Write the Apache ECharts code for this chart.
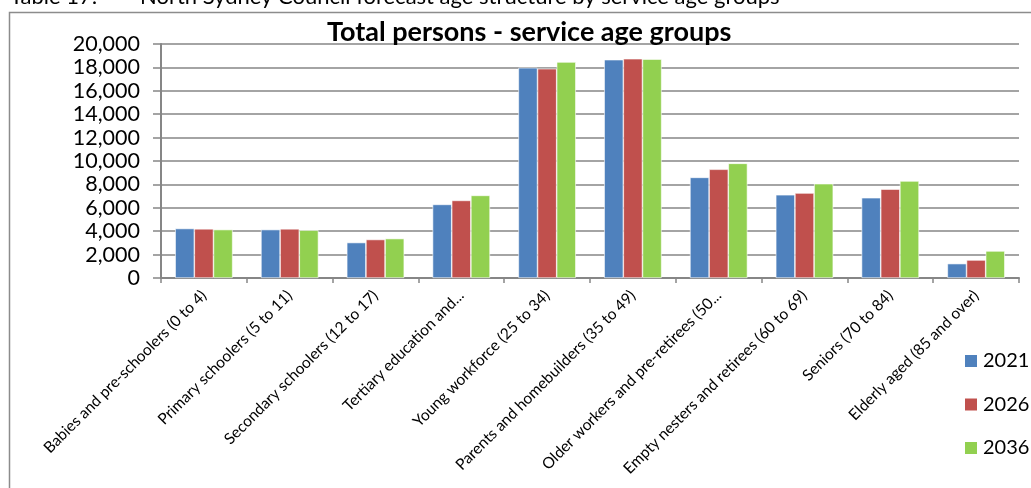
<!DOCTYPE html>
<html><head><meta charset="utf-8">
<script src="https://cdn.jsdelivr.net/npm/echarts@6/dist/echarts.min.js"></script>
<style>html,body{margin:0;padding:0;background:#fff}#c{width:1031px;height:488px}</style>
</head><body><div id="c"></div>
<script>
const categories = [
  "Babies and pre-schoolers (0 to 4)",
  "Primary schoolers (5 to 11)",
  "Secondary schoolers (12 to 17)",
  "Tertiary education and...",
  "Young workforce (25 to 34)",
  "Parents and homebuilders (35 to 49)",
  "Older workers and pre-retirees (50...",
  "Empty nesters and retirees (60 to 69)",
  "Seniors (70 to 84)",
  "Elderly aged (85 and over)"
];
const seriesNames = ["2021", "2026", "2036"];
const values2021 = [4230, 4140, 3030, 6290, 17970, 18660, 8600, 7110, 6860, 1230];
const values2026 = [4200, 4200, 3290, 6630, 17890, 18740, 9290, 7260, 7600, 1540];
const values2036 = [4140, 4090, 3370, 7060, 18460, 18710, 9800, 8060, 8290, 2310];
const yTicks = [0, 2000, 4000, 6000, 8000, 10000, 12000, 14000, 16000, 18000, 20000];

const FONT = "Lato";
const colors = ["#4F81BD", "#C0504D", "#92D050"];
const chart = echarts.init(document.getElementById('c'), null, {renderer: 'canvas'});
const fmt = v => String(v).replace(/\B(?=(\d{3})+(?!\d))/g, ",");
const mk = (name, data, i) => ({
  name, type: 'bar', data, barGap: '0%', barCategoryGap: '33%',
  itemStyle: {color: colors[i], borderColor: '#ffffff', borderWidth: 0.6},
  animation: false
});
chart.setOption({
  animation: false,
  title: [
    {text: "Table 17:", left: 10, top: -14, padding: 0, textStyle: {fontFamily: FONT, fontSize: 22, fontWeight: 'normal', color: '#000'}},
    {text: "North Sydney Council forecast age structure by service age groups", left: 140, top: -14, padding: 0, textStyle: {fontFamily: FONT, fontSize: 22, fontWeight: 'normal', color: '#000'}},
    {text: "Total persons - service age groups", left: 327, top: 19, padding: 0, textStyle: {fontFamily: FONT, fontSize: 27, fontWeight: 'bold', color: '#000'}}
  ],
  graphic: [
    {type: 'rect', shape: {x: 9.5, y: 12.5, width: 1100, height: 600}, style: {fill: null, stroke: '#8c8c8c', lineWidth: 1.5}, z: -1}
  ],
  legend: {
    orient: 'vertical', left: 958, top: 346, itemGap: 23.5, itemWidth: 14, itemHeight: 14,
    icon: 'rect', textStyle: {fontFamily: FONT, fontSize: 20, color: '#000'},
    data: seriesNames
  },
  grid: {left: 161, right: 12, top: 44, bottom: 210, containLabel: false},
  xAxis: {
    type: 'category', data: categories,
    axisLine: {lineStyle: {color: '#868686', width: 2}},
    axisTick: {show: true, length: 5, lineStyle: {color: '#868686', width: 1.5}},
    axisLabel: {rotate: 45, interval: 0, fontFamily: FONT, fontSize: 15.5, color: '#000', margin: 15}
  },
  yAxis: {
    type: 'value', min: yTicks[0], max: yTicks[yTicks.length - 1], interval: 2000,
    axisLine: {show: true, lineStyle: {color: '#868686', width: 2}},
    axisTick: {show: true, length: 8, lineStyle: {color: '#868686', width: 1.5}},
    splitLine: {lineStyle: {color: '#868686', width: 1.5}},
    axisLabel: {fontFamily: FONT, fontSize: 21.5, color: '#000', margin: 21, formatter: v => fmt(v)}
  },
  series: [mk(seriesNames[0], values2021, 0), mk(seriesNames[1], values2026, 1), mk(seriesNames[2], values2036, 2)]
});
</script></body></html>
